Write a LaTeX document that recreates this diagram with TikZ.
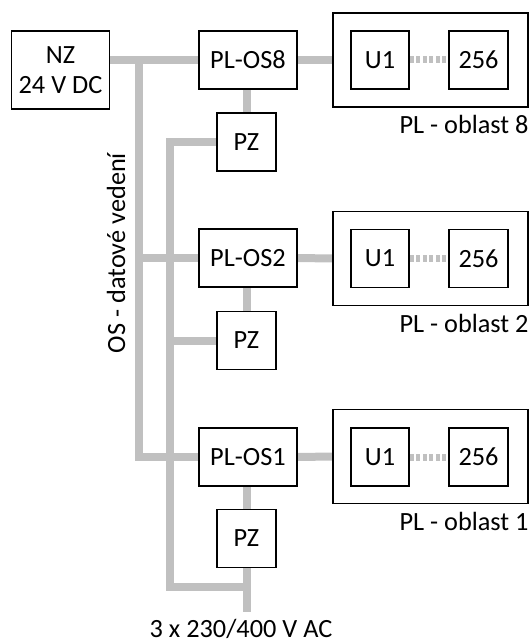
\documentclass[tikz,border=0pt]{standalone}
\usepackage{fontspec}
\setmainfont{Carlito}
\usepackage{tikz}
\usetikzlibrary{backgrounds}
\definecolor{busgray}{RGB}{192,192,192}

\begin{document}
\begin{tikzpicture}[x=1pt,y=-1pt,
  font=\fontsize{26.3}{30}\selectfont,
  frame/.style={draw, line width=1.5pt, inner sep=0pt},
  osbox/.style={frame, minimum width=98pt, minimum height=58pt},
  pzbox/.style={frame, minimum width=59pt, minimum height=58pt},
  area/.style={frame, minimum width=195pt, minimum height=94pt},
  bus/.style={busgray, line width=8pt},
  dotlink/.style={busgray, line width=7pt, dash pattern=on 4pt off 2.5pt},
  lbl/.style={inner sep=0pt}]
\useasboundingbox (0,0) rectangle (530,644);
\node[frame, minimum width=98pt, minimum height=78pt, align=center] (nz) at (60.5,70) {NZ\\24 V DC};
\node[osbox] (os8) at (248,60) {PL-OS8};
\node[osbox] (os2) at (248,258) {PL-OS2};
\node[osbox] (os1) at (248,457) {PL-OS1};
\node[pzbox] (pz8) at (246.5,142) {PZ};
\node[pzbox] (pz2) at (246.5,340.5) {PZ};
\node[pzbox] (pz1) at (246.5,538.5) {PZ};
\node[area] (ar8) at (430.5,60) {};
\node[area] (ar2) at (430.5,258.5) {};
\node[area] (ar1) at (430.5,456.5) {};
\node[pzbox, minimum width=58pt] (u8) at (380,60) {U1};
\node[pzbox] (n8) at (478.5,60) {256};
\node[pzbox, minimum width=58pt] (u2) at (380,258.5) {U1};
\node[pzbox] (n2) at (478.5,258.5) {256};
\node[pzbox, minimum width=58pt] (u1) at (380,457) {U1};
\node[pzbox] (n1) at (478.5,457) {256};
\node[lbl, anchor=base east] (l8) at ([yshift=-26pt]ar8.south east) {PL - oblast 8};
\node[lbl, anchor=base east] (l2) at ([yshift=-26pt]ar2.south east) {PL - oblast 2};
\node[lbl, anchor=base east] (l1) at ([yshift=-26pt]ar1.south east) {PL - oblast 1};
\node[lbl, rotate=90, anchor=base] (os) at (125,253) {OS - datové vedení};
\node[lbl, anchor=base] (ac) at (241,637) {3 x 230/400 V AC};
\coordinate (dtop) at (139,60);
\coordinate (dbot) at (139,457);
\coordinate (pcorner) at (170,587);
\coordinate (pbot) at (246.5,587);
\coordinate (pin) at (246.5,612);
\begin{scope}[on background layer]
\draw[bus] (nz.east |- os8.west) -- (os8.west);
\draw[bus] (dtop) -- (dbot) -- (os1.west);
\draw[bus] (dbot |- os2.west) -- (os2.west);
\draw[bus] (pz8.west) -| (pcorner) -- (pbot);
\draw[bus] (pz2.west) -- (pz2.west -| pcorner);
\draw[bus] (pz1.south) -- (pin);
\draw[bus] (pz8.north |- os8.south) -- (pz8.north);
\draw[bus] (pz2.north |- os2.south) -- (pz2.north);
\draw[bus] (pz1.north |- os1.south) -- (pz1.north);
\draw[bus] (os8.east) -- (ar8.west);
\draw[bus] (os2.east) -- (ar2.west);
\draw[bus] (os1.east) -- (ar1.west);
\draw[dotlink] (u8.east) -- (n8.west);
\draw[dotlink] (u2.east) -- (n2.west);
\draw[dotlink] (u1.east) -- (n1.west);
\end{scope}
\end{tikzpicture}
\end{document}
